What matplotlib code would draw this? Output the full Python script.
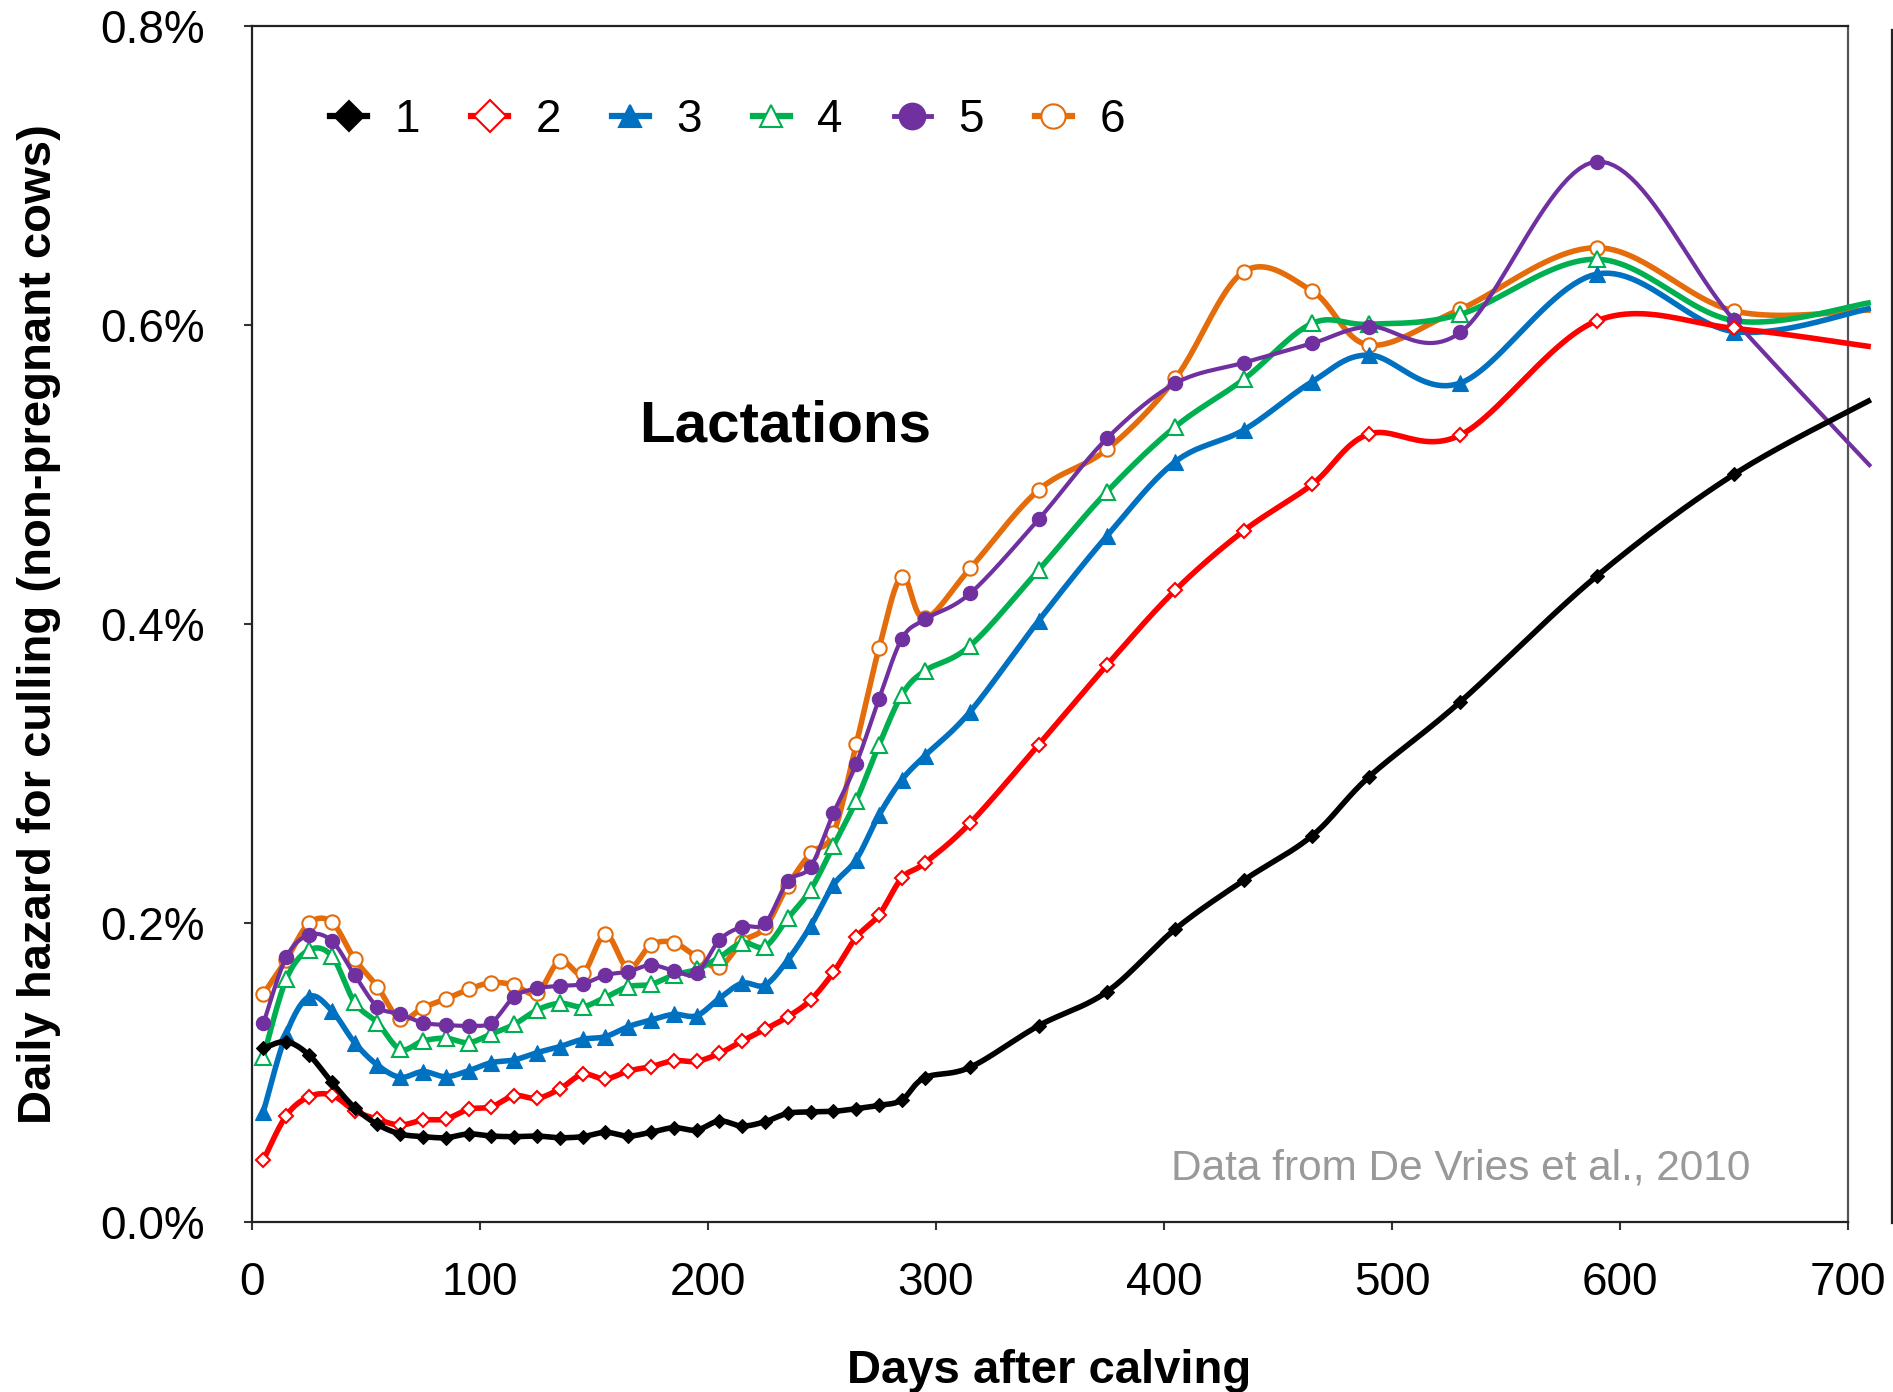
import numpy as np
import matplotlib
matplotlib.use("Agg")
import matplotlib.pyplot as plt
from matplotlib.lines import Line2D
from matplotlib.ticker import FuncFormatter

plt.rcParams["font.family"] = ["Liberation Sans", "DejaVu Sans"]

# Days after calving at which the hazard was evaluated
days = [5, 15, 25, 35, 45, 55, 65, 75, 85, 95, 105, 115, 125, 135, 145, 155, 165, 175,
        185, 195, 205, 215, 225, 235, 245, 255, 265, 275, 285, 295,
        315, 345, 375, 405, 435, 465, 490, 530, 590, 650, 710]

# Daily hazard for culling (%) by lactation number
lact1 = [0.1162, 0.1206, 0.1117, 0.0934, 0.0765, 0.0653, 0.0589, 0.0571, 0.0564, 0.0589,
         0.0575, 0.0571, 0.0575, 0.0564, 0.0571, 0.0600, 0.0575, 0.0600, 0.0631, 0.0615,
         0.0676, 0.0642, 0.0671, 0.0727, 0.0736, 0.0740, 0.0758, 0.0780, 0.0816, 0.0965,
         0.1035, 0.1313, 0.1540, 0.1960, 0.2286, 0.2584, 0.2979, 0.3480, 0.4323, 0.5001, 0.5500]
lact2 = [0.0415, 0.0711, 0.0838, 0.0849, 0.0745, 0.0687, 0.0649, 0.0682, 0.0689, 0.0754,
         0.0771, 0.0845, 0.0827, 0.0890, 0.0988, 0.0957, 0.1010, 0.1039, 0.1079, 0.1075,
         0.1128, 0.1211, 0.1289, 0.1373, 0.1485, 0.1670, 0.1904, 0.2054, 0.2301, 0.2400,
         0.2669, 0.3191, 0.3726, 0.4227, 0.4624, 0.4934, 0.5271, 0.5264, 0.6029, 0.5978, 0.5855]
lact3 = [0.0738, 0.1258, 0.1507, 0.1414, 0.1200, 0.1050, 0.0968, 0.1006, 0.0972, 0.1012,
         0.1066, 0.1084, 0.1133, 0.1173, 0.1222, 0.1240, 0.1307, 0.1351, 0.1389, 0.1380,
         0.1496, 0.1597, 0.1585, 0.1753, 0.1980, 0.2254, 0.2424, 0.2722, 0.2957, 0.3117,
         0.3414, 0.4022, 0.4589, 0.5086, 0.5298, 0.5621, 0.5799, 0.5612, 0.6341, 0.5956, 0.6112]
lact4 = [0.1106, 0.1623, 0.1819, 0.1779, 0.1469, 0.1333, 0.1155, 0.1211, 0.1229, 0.1200,
         0.1258, 0.1322, 0.1418, 0.1463, 0.1440, 0.1503, 0.1574, 0.1590, 0.1652, 0.1690,
         0.1770, 0.1868, 0.1842, 0.2031, 0.2223, 0.2516, 0.2818, 0.3190, 0.3525, 0.3686,
         0.3855, 0.4361, 0.4885, 0.5320, 0.5637, 0.6011, 0.6005, 0.6072, 0.6440, 0.6029, 0.6150]
lact5 = [0.1329, 0.1770, 0.1920, 0.1880, 0.1652, 0.1440, 0.1391, 0.1333, 0.1318, 0.1313,
         0.1333, 0.1507, 0.1563, 0.1579, 0.1592, 0.1652, 0.1675, 0.1719, 0.1681, 0.1663,
         0.1886, 0.1975, 0.1998, 0.2278, 0.2377, 0.2734, 0.3064, 0.3498, 0.3900, 0.4031,
         0.4205, 0.4700, 0.5242, 0.5610, 0.5748, 0.5877, 0.5989, 0.5950, 0.7093, 0.6034, 0.5053]
lact6 = [0.1525, 0.1753, 0.1998, 0.2005, 0.1759, 0.1574, 0.1356, 0.1434, 0.1492, 0.1556,
         0.1601, 0.1585, 0.1530, 0.1748, 0.1663, 0.1924, 0.1697, 0.1853, 0.1869, 0.1775,
         0.1708, 0.1875, 0.1970, 0.2250, 0.2466, 0.2600, 0.3195, 0.3837, 0.4317, 0.4038,
         0.4372, 0.4896, 0.5168, 0.5643, 0.6357, 0.6227, 0.5866, 0.6106, 0.6517, 0.6094, 0.6100]

labels = ["1", "2", "3", "4", "5", "6"]
x_ticks = [0, 100, 200, 300, 400, 500, 600, 700]
y_ticks = [0.0, 0.2, 0.4, 0.6, 0.8]

series = [
    # values, colour, marker, plot size, legend size, filled, line width, z-order
    (lact1, "#000000", "D", 6.8, 15.0, True, 4.0, 8),
    (lact2, "#FF0000", "D", 7.2, 16.0, False, 4.0, 7),
    (lact3, "#0070C0", "^", 11.5, 15.5, True, 4.0, 5),
    (lact4, "#00B050", "^", 11.0, 15.5, False, 4.0, 4),
    (lact5, "#7030A0", "o", 10.3, 18.5, True, 3.0, 6),
    (lact6, "#E46C0A", "o", 10.3, 17.5, False, 4.0, 3),
]


def smooth_curve(x, y, steps=24):
    """Bezier smoothing through every point (Catmull-Rom style control points)."""
    p = np.column_stack([np.asarray(x, float), np.asarray(y, float)])
    n = len(p)
    out = [p[0]]
    t = np.linspace(0, 1, steps + 1)[1:, None]
    for i in range(n - 1):
        p_prev = p[i - 1] if i > 0 else p[i]
        p_next2 = p[i + 2] if i + 2 < n else p[i + 1]
        b0, b3 = p[i], p[i + 1]
        b1 = b0 + (b3 - p_prev) / 6.0
        b2 = b3 - (p_next2 - b0) / 6.0
        seg = ((1 - t) ** 3) * b0 + 3 * ((1 - t) ** 2) * t * b1 + 3 * (1 - t) * t ** 2 * b2 + t ** 3 * b3
        out.extend(seg)
    out = np.array(out)
    return out[:, 0], out[:, 1]


W, H = 1893, 1392
fig = plt.figure(figsize=(W / 100, H / 100), dpi=100)
ax = fig.add_axes([252 / W, 1 - 1222 / H, (1848 - 252) / W, (1222 - 26) / H])

x_arr = np.array(days, float)
handles = []
for vals, col, mk, ms, ms_leg, filled, lw, z in series:
    xs, ys = smooth_curve(days, vals)
    ax.plot(xs, ys, color=col, lw=lw, solid_capstyle="butt", zorder=z, clip_on=False)
    shown = x_arr <= 700
    face = col if filled else "white"
    ax.plot(x_arr[shown], np.array(vals)[shown], linestyle="none", marker=mk, ms=ms,
            mfc=face, mec=col, mew=1.5 if not filled else 0.8, zorder=z + 0.5)
    handles.append(Line2D([], [], color=col, lw=lw + 0.5, marker=mk, ms=ms_leg,
                          mfc=face, mec=col, mew=1.5))

ax.set_xlim(0, 700)
ax.set_ylim(0, 0.8)
ax.set_xticks(x_ticks)
ax.set_yticks(y_ticks)
ax.yaxis.set_major_formatter(FuncFormatter(lambda v, _: f"{v:.1f}%"))
ax.tick_params(axis="both", direction="out", length=6, width=1.5, labelsize=33, color="#333333")
ax.tick_params(axis="y", pad=28)
ax.tick_params(axis="x", pad=22)
for side in ["left", "right", "top", "bottom"]:
    ax.spines[side].set_linewidth(1.6)
    ax.spines[side].set_color("#222222")
ax.spines["right"].set_color("#555555")

leg = ax.legend(handles, labels, ncol=6, loc="upper left", bbox_to_anchor=(0.049, 0.94),
                frameon=False, fontsize=33, handlelength=0.8, handletextpad=0.6,
                columnspacing=1.12, borderpad=0, borderaxespad=0)

ax.text(0.334, 0.665, "Lactations", transform=ax.transAxes, ha="center", va="center",
        fontsize=42, fontweight="bold")
ax.text(0.576, 0.045, "Data from De Vries et al., 2010", transform=ax.transAxes,
        ha="left", va="center", fontsize=30.5, color="#999999")

fig.text(1049 / W, 1 - 1371 / H, "Days after calving", ha="center", va="center",
         fontsize=34, fontweight="bold")
fig.text(39 / W, 1 - 624 / H, "Daily hazard for culling (non-pregnant cows)", ha="center",
         va="center", rotation=90, fontsize=34, fontweight="bold")

# border of the neighbouring panel at the right edge
fig.add_artist(Line2D([1892 / W, 1892 / W], [1 - 1223 / H, 1 - 30 / H], color="#222222", lw=1.6))

fig.savefig("out.png", dpi=100)
